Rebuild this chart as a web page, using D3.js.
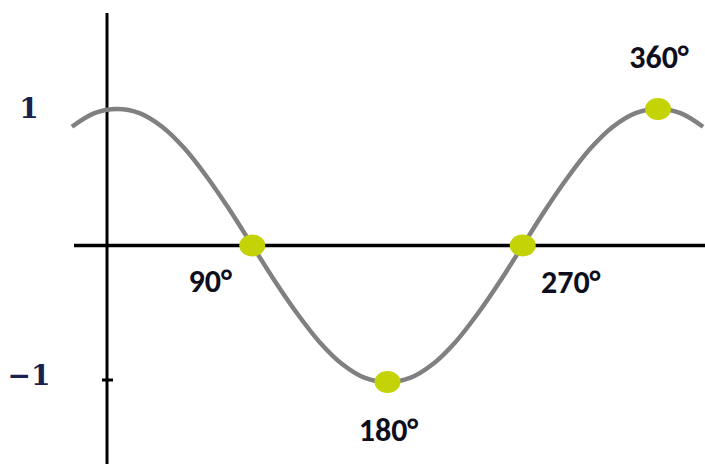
<!DOCTYPE html>
<html lang="en">
<head>
  <meta charset="UTF-8">
  <style>
    body { margin: 0; background: #fff; }
    .deg {
      font-family: Carlito, "Liberation Sans", Arial, sans-serif;
      font-weight: bold;
      font-size: 32px;
      fill: #0e0e1c;
    }
    .ylab {
      font-family: "DejaVu Serif", "Liberation Serif", serif;
      font-weight: bold;
      font-size: 28px;
      fill: #1a2050;
    }
  </style>
  <title>cos</title>
  <script src="https://d3js.org/d3.v7.min.js"></script>
</head>
<body>
<svg id="chart"></svg>
<script>

// curve samples (degrees, cosine value) read as a smooth wave
const angles = [-30, -15, 0, 15, 30, 45, 60, 75, 90, 105, 120, 135, 150, 165, 180,
                195, 210, 225, 240, 255, 270, 285, 300, 315, 330, 345, 360, 375, 390];
const values = [0.87, 0.97, 1, 0.97, 0.87, 0.71, 0.5, 0.26, 0, -0.26, -0.5, -0.71, -0.87, -0.97, -1,
                -0.97, -0.87, -0.71, -0.5, -0.26, 0, 0.26, 0.5, 0.71, 0.87, 0.97, 1, 0.97, 0.87];
const markAngles = [90, 180, 270, 360];
const markValues = [0, -1, 0, 1];
const markLabels = ['90°', '180°', '270°', '360°'];
const yTicks = [1, -1];
const yTickLabels = ['1', '\u22121'];

const size = {width: 705, height: 464};
const svg = d3.select('#chart')
              .attr('width', size.width)
              .attr('height', size.height);

const xScale = d3.scaleLinear().domain([0, 360]).range([117, 658]);
const yScale = d3.scaleLinear().domain([-1, 1]).range([382, 109]);
const axisX = 107;

// axes
svg.append('line')
   .attr('x1', axisX).attr('x2', axisX)
   .attr('y1', 13).attr('y2', size.height)
   .attr('stroke', '#000').attr('stroke-width', 3);
svg.append('line')
   .attr('x1', 74).attr('x2', size.width)
   .attr('y1', yScale(0)).attr('y2', yScale(0))
   .attr('stroke', '#000').attr('stroke-width', 3.5);
svg.append('line')
   .attr('x1', axisX - 5).attr('x2', axisX + 6)
   .attr('y1', yScale(-1) - 2).attr('y2', yScale(-1) - 2)
   .attr('stroke', '#000').attr('stroke-width', 3);

svg.selectAll('.ylab')
   .data(yTicks)
   .enter()
   .append('text')
   .attr('class', 'ylab')
   .attr('x', 29)
   .attr('y', function(d) { return yScale(d) + (d > 0 ? -1 : -7); })
   .attr('dy', '0.36em')
   .attr('text-anchor', 'middle')
   .text(function(d, i) { return yTickLabels[i]; });

// curve
const pts = angles.map(function(a, i) { return [a, values[i]]; });
const line = d3.line()
               .x(function(d) { return xScale(d[0]); })
               .y(function(d) { return yScale(d[1]); })
               .curve(d3.curveCatmullRom);
svg.append('path')
   .datum(pts)
   .attr('d', line)
   .attr('fill', 'none')
   .attr('stroke', '#808080')
   .attr('stroke-width', 4.5);

// marker dots
svg.selectAll('.dot')
   .data(markAngles)
   .enter()
   .append('ellipse')
   .attr('class', 'dot')
   .attr('cx', function(d) { return xScale(d); })
   .attr('cy', function(d, i) { return yScale(markValues[i]); })
   .attr('rx', 13)
   .attr('ry', 11)
   .attr('fill', '#c3d305');

const labelOffset = {90: [-42, 36], 180: [1, 49], 270: [48, 37], 360: [1, -51]};
svg.selectAll('.deg')
   .data(markAngles)
   .enter()
   .append('text')
   .attr('class', 'deg')
   .attr('x', function(d) { return xScale(d) + labelOffset[d][0]; })
   .attr('y', function(d, i) { return yScale(markValues[i]) + labelOffset[d][1]; })
   .attr('dy', '0.32em')
   .attr('text-anchor', 'middle')
   .text(function(d, i) { return markLabels[i]; });

</script>
</body>
</html>
